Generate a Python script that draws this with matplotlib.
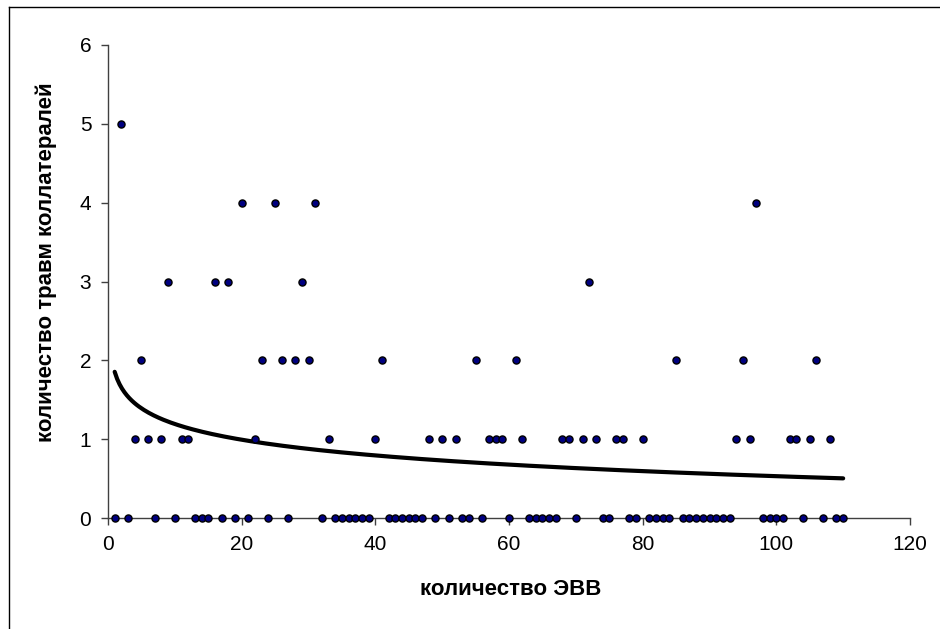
import numpy as np
import matplotlib
matplotlib.use("Agg")
import matplotlib.pyplot as plt
from matplotlib.lines import Line2D

plt.rcParams['font.family'] = ['Liberation Sans', 'DejaVu Sans']

# количество ЭВВ (1..110) и количество травм коллатералей
evv = list(range(1, 111))
travmy = [
    0, 5, 0, 1, 2, 1, 0, 1, 3, 0,
    1, 1, 0, 0, 0, 3, 0, 3, 0, 4,
    0, 1, 2, 0, 4, 2, 0, 2, 3, 2,
    4, 0, 1, 0, 0, 0, 0, 0, 0, 1,
    2, 0, 0, 0, 0, 0, 0, 1, 0, 1,
    0, 1, 0, 0, 2, 0, 1, 1, 1, 0,
    2, 1, 0, 0, 0, 0, 0, 1, 1, 0,
    1, 3, 1, 0, 0, 1, 1, 0, 0, 1,
    0, 0, 0, 0, 2, 0, 0, 0, 0, 0,
    0, 0, 0, 1, 2, 1, 4, 0, 0, 0,
    0, 1, 1, 0, 1, 2, 0, 1, 0, 0,
]
x_ticks = [0, 20, 40, 60, 80, 100, 120]
y_ticks = [0, 1, 2, 3, 4, 5, 6]

x = np.array(evv, dtype=float)
y = np.array(travmy, dtype=float)

# логарифмическая линия тренда
b, a = np.polyfit(np.log(x), y, 1)
xt = np.linspace(x.min(), x.max(), 300)
yt = a + b * np.log(xt)

fig = plt.figure(figsize=(9.4, 6.29), dpi=100)
ax = fig.add_axes([108 / 940, 1 - 518 / 629, (910 - 108) / 940, (518 - 45) / 629])

ax.plot(xt, yt, color='black', lw=3.0, solid_capstyle='round', zorder=2)
ax.scatter(x, y, s=26, c='#000080', edgecolors='black', linewidths=1.0,
           zorder=3, clip_on=False)

ax.set_xlim(0, 120)
ax.set_ylim(0, 6)
ax.set_xticks(x_ticks)
ax.set_yticks(y_ticks)

for s in ['top', 'right']:
    ax.spines[s].set_visible(False)
for s in ['left', 'bottom']:
    ax.spines[s].set_color('#404040')
    ax.spines[s].set_linewidth(1.0)
ax.tick_params(direction='out', length=5, width=1.0, color='#404040',
               labelsize=15, pad=7)

ax.set_xlabel('количество ЭВВ', fontsize=16, fontweight='bold')
ax.xaxis.set_label_coords(0.502, -0.128)
ax.set_ylabel('количество травм коллатералей', fontsize=16, fontweight='bold')
ax.yaxis.set_label_coords(-0.064, 0.541)

# рамка области диаграммы
fig.add_artist(Line2D([8.5 / 940, 8.5 / 940], [0, 1 - 6.5 / 629],
                      transform=fig.transFigure, color='black', lw=1))
fig.add_artist(Line2D([8.5 / 940, 1], [1 - 6.5 / 629, 1 - 6.5 / 629],
                      transform=fig.transFigure, color='black', lw=1))

fig.savefig('out.png', dpi=100)
